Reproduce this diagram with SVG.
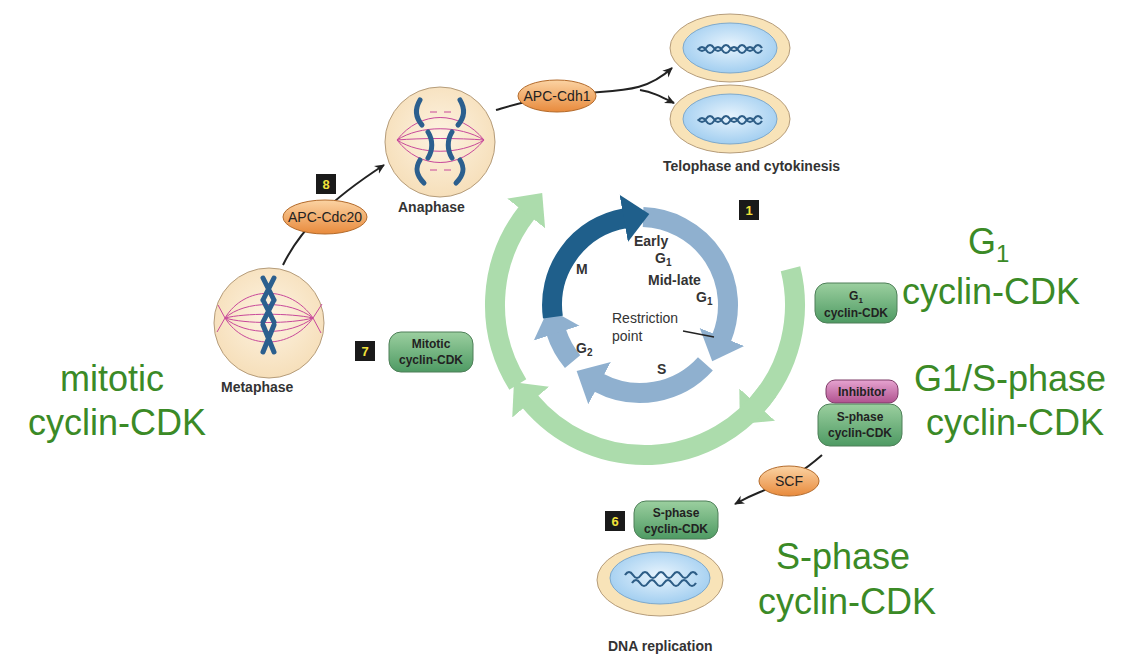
<svg xmlns="http://www.w3.org/2000/svg" width="1132" height="660" viewBox="0 0 1132 660">
<defs>
<style>
.lbl{font-family:"Liberation Sans",Arial,sans-serif;font-weight:bold;fill:#333;font-size:14px}
.big{font-family:"Liberation Sans",Arial,sans-serif;fill:#3b8a26;font-size:36px}
.gbox{fill:url(#gg);stroke:#4e7f58;stroke-width:1}
.gt{font-family:"Liberation Sans",Arial,sans-serif;font-weight:bold;fill:#222;font-size:12px;text-anchor:middle}
.ot{font-family:"Liberation Sans",Arial,sans-serif;fill:#222;font-size:14px;text-anchor:middle}
.num{fill:#1a1a1a}
.numt{font-family:"Liberation Sans",Arial,sans-serif;font-weight:bold;fill:#f3e23a;font-size:13px;text-anchor:middle}
.cell{fill:url(#cellg);stroke:#b59c7a;stroke-width:1}
.spin{fill:none;stroke:#c8489a;stroke-width:1}
.chr{fill:none;stroke:#2b5f8e;stroke-width:5;stroke-linecap:round}
.con{fill:none;stroke:#222;stroke-width:2}
.dna{fill:none;stroke:#2d5d86;stroke-width:2.2}
</style>
<radialGradient id="cellg" cx="0.5" cy="0.45" r="0.55"><stop offset="0" stop-color="#fdf3e2"/><stop offset="1" stop-color="#f6dfba"/></radialGradient>
<radialGradient id="nuc" cx="0.5" cy="0.45" r="0.6"><stop offset="0" stop-color="#e8f4fd"/><stop offset="1" stop-color="#9ccbef"/></radialGradient>
<linearGradient id="gg" x1="0" y1="0" x2="0" y2="1"><stop offset="0" stop-color="#9bcf9f"/><stop offset="1" stop-color="#4e9a63"/></linearGradient>
<linearGradient id="og" x1="0" y1="0" x2="0" y2="1"><stop offset="0" stop-color="#fbd3a3"/><stop offset="1" stop-color="#e88a3c"/></linearGradient>
<linearGradient id="mg" x1="0" y1="0" x2="0" y2="1"><stop offset="0" stop-color="#e6a3d0"/><stop offset="1" stop-color="#b0528f"/></linearGradient>
<marker id="mgreen" markerUnits="strokeWidth" viewBox="0 -1.5 2 3" refX="0.05" refY="0" markerWidth="2" markerHeight="3" orient="auto"><path d="M0,-1.2 L1.3,0 L0,1.2 z" fill="#acdcac"/></marker>
<marker id="mlight" markerUnits="strokeWidth" viewBox="0 -1.5 2 3" refX="0.05" refY="0" markerWidth="2" markerHeight="3" orient="auto"><path d="M0,-1.2 L1.3,0 L0,1.2 z" fill="#8fb0cf"/></marker>
<marker id="mdark" markerUnits="strokeWidth" viewBox="0 -1.5 2 3" refX="0.05" refY="0" markerWidth="2" markerHeight="3" orient="auto"><path d="M0,-1.2 L1.3,0 L0,1.2 z" fill="#1f5f8b"/></marker>
<marker id="ah" markerUnits="userSpaceOnUse" viewBox="0 -5 10 10" refX="9" refY="0" markerWidth="10" markerHeight="10" orient="auto"><path d="M0,-4.5 L10,0 L0,4.5 L3,0 z" fill="#222"/></marker>
</defs>
<rect width="1132" height="660" fill="#fff"/>

<g id="cycle-outer">
<path d="M790.5,268.7 A150,150 0 0 1 756.5,405.4" fill="none" stroke="#acdcac" stroke-width="20" marker-end="url(#mgreen)"/>
<path d="M767.9,391 A150,150 0 0 1 530,401.4" fill="none" stroke="#acdcac" stroke-width="20" marker-end="url(#mgreen)"/>
<path d="M517.8,384.5 A150,150 0 0 1 526.8,212.6" fill="none" stroke="#acdcac" stroke-width="20" marker-end="url(#mgreen)"/>
</g>
<g id="cycle-inner">
<path d="M643.1,217.1 A88,88 0 0 1 721.6,338" fill="none" stroke="#8fb0cf" stroke-width="20" marker-end="url(#mlight)"/>
<path d="M705.4,363.9 A88,88 0 0 1 598.7,382.7" fill="none" stroke="#8fb0cf" stroke-width="20" marker-end="url(#mlight)"/>
<path d="M572.6,361.6 A88,88 0 0 1 556.3,332.2" fill="none" stroke="#8fb0cf" stroke-width="20" marker-end="url(#mlight)"/>
<path d="M552.9,317.2 A88,88 0 0 1 624.7,218.3" fill="none" stroke="#1f5f8b" stroke-width="20" marker-end="url(#mdark)"/>
<text class="lbl" x="634" y="246">Early</text>
<text class="lbl" x="655" y="263">G<tspan font-size="10" dy="3">1</tspan></text>
<text class="lbl" x="648" y="285">Mid-late</text>
<text class="lbl" x="696" y="302">G<tspan font-size="10" dy="3">1</tspan></text>
<text class="lbl" x="576" y="274" font-size="15">M</text>
<text class="lbl" x="576" y="353">G<tspan font-size="10" dy="3">2</tspan></text>
<text class="lbl" x="657" y="374">S</text>
<text x="612" y="323" font-family="Liberation Sans,Arial,sans-serif" font-size="14" fill="#333">Restriction</text>
<text x="612" y="341" font-family="Liberation Sans,Arial,sans-serif" font-size="14" fill="#333">point</text>
<line x1="683" y1="331" x2="714" y2="337" stroke="#222" stroke-width="1.3"/>
</g>

<g id="connectors">
<path class="con" d="M283,265 C300,230 330,200 384,165" marker-end="url(#ah)"/>
<path class="con" d="M496,110 C520,103 540,96 600,92 C630,90 650,88 672,68" marker-end="url(#ah)"/>
<path class="con" d="M640,90 C652,92 660,96 674,103" marker-end="url(#ah)"/>
<path class="con" d="M822,455 C805,470 790,480 760,492 C750,496 744,499 735,504" marker-end="url(#ah)"/>
</g>

<g id="metaphase">
<circle class="cell" cx="269" cy="323" r="55"/>
<path class="spin" d="M225,318 C245,285 290,285 313,318 M225,318 C245,300 290,300 313,318 M225,318 C245,313 290,313 313,318 M225,318 C245,350 290,350 313,318 M225,318 C245,336 290,336 313,318 M225,318 C245,324 290,324 313,318 M225,318 L218,305 M225,318 L217,332 M313,318 L322,304 M313,318 L321,333"/>
<path class="chr" d="M263,278 L274,300 M274,278 L263,300 M263,300 L274,322 M274,300 L263,322 M263,325 L274,352 M274,325 L263,352"/>
<text class="lbl" x="221" y="392">Metaphase</text>
</g>
<g id="anaphase">
<circle class="cell" cx="440" cy="142" r="55"/>
<path class="spin" d="M397,140 C420,110 460,110 484,140 M397,140 C420,125 460,125 484,140 M397,140 C420,138 460,138 484,140 M397,140 C420,170 460,170 484,140 M397,140 C420,155 460,155 484,140 M430,112 L437,112 M444,112 L451,112 M430,170 L437,170 M444,170 L451,170"/>
<path class="chr" d="M420,100 C414,110 416,118 422,125 M460,100 C466,110 464,118 458,125 M428,132 C433,140 433,150 428,158 M452,132 C447,140 447,150 452,158 M420,160 C415,168 416,175 424,183 M460,160 C465,168 464,175 456,183"/>
<text class="lbl" x="398" y="212">Anaphase</text>
</g>
<g id="telophase">
<ellipse cx="730" cy="48" rx="60" ry="34" fill="#f8e3b8" stroke="#b59c7a"/>
<ellipse cx="730" cy="48" rx="47" ry="25" fill="url(#nuc)" stroke="#7ea9cc"/>
<path class="dna" d="M698,50 q4,-6 8,0 t8,0 t8,0 t8,0 t8,0 t8,0 t8,0 t8,0 M698,48 q4,6 8,0 t8,0 t8,0 t8,0 t8,0 t8,0 t8,0 t8,0"/>
<ellipse cx="730" cy="119" rx="60" ry="34" fill="#f8e3b8" stroke="#b59c7a"/>
<ellipse cx="730" cy="119" rx="47" ry="25" fill="url(#nuc)" stroke="#7ea9cc"/>
<path class="dna" d="M698,121 q4,-6 8,0 t8,0 t8,0 t8,0 t8,0 t8,0 t8,0 t8,0 M698,119 q4,6 8,0 t8,0 t8,0 t8,0 t8,0 t8,0 t8,0 t8,0"/>
<text class="lbl" x="663" y="171">Telophase and cytokinesis</text>
</g>
<g id="dna-replication">
<ellipse cx="660" cy="580" rx="63" ry="36" fill="#f8e3b8" stroke="#b59c7a"/>
<ellipse cx="660" cy="578" rx="50" ry="26" fill="url(#nuc)" stroke="#7ea9cc"/>
<path class="dna" d="M625,575 q4,-6 8,0 t8,0 t8,0 t8,0 t8,0 t8,0 t8,0 t8,0 t8,0 M632,583 q4,-6 8,0 t8,0 t8,0 t8,0 t8,0 t8,0 t8,0 t8,0"/>
<text class="lbl" x="608" y="651">DNA replication</text>
</g>

<g id="apc-cdh1"><ellipse cx="557" cy="96" rx="39" ry="16" fill="url(#og)" stroke="#b36a2a"/><text class="ot" x="557" y="101">APC-Cdh1</text></g>
<g id="apc-cdc20"><ellipse cx="325" cy="217" rx="42" ry="17" fill="url(#og)" stroke="#b36a2a"/><text class="ot" x="325" y="222">APC-Cdc20</text></g>
<g id="scf"><ellipse cx="789" cy="481" rx="30" ry="15" fill="url(#og)" stroke="#b36a2a"/><text class="ot" x="789" y="486">SCF</text></g>

<g id="g1-cdk"><rect class="gbox" x="815" y="283" width="82" height="40" rx="12"/><text class="gt" x="856" y="300">G<tspan font-size="8" dy="3">1</tspan></text><text class="gt" x="856" y="317" font-size="11">cyclin-CDK</text></g>
<g id="mitotic-cdk"><rect class="gbox" x="389" y="332" width="84" height="40" rx="12"/><text class="gt" x="431" y="348">Mitotic</text><text class="gt" x="431" y="364">cyclin-CDK</text></g>
<g id="inhibitor"><rect x="826" y="380" width="72" height="23" rx="9" fill="url(#mg)" stroke="#7d3a66"/><text class="gt" x="862" y="396">Inhibitor</text></g>
<g id="s-cdk-inhib"><rect class="gbox" x="818" y="404" width="84" height="42" rx="12"/><text class="gt" x="860" y="421">S-phase</text><text class="gt" x="860" y="437">cyclin-CDK</text></g>
<g id="s-cdk"><rect class="gbox" x="634" y="501" width="84" height="38" rx="12"/><text class="gt" x="676" y="517">S-phase</text><text class="gt" x="676" y="533">cyclin-CDK</text></g>

<g id="numbers">
<rect class="num" x="739" y="200" width="20" height="20"/><text class="numt" x="749" y="215">1</text>
<rect class="num" x="316" y="174" width="20" height="20"/><text class="numt" x="326" y="189">8</text>
<rect class="num" x="355" y="341" width="20" height="20"/><text class="numt" x="365" y="356">7</text>
<rect class="num" x="605" y="511" width="20" height="20"/><text class="numt" x="615" y="526">6</text>
</g>

<g id="labels">
<text class="big" x="968" y="254">G<tspan font-size="24" dy="8">1</tspan></text>
<text class="big" x="902" y="304">cyclin-CDK</text>
<text class="big" x="914" y="391">G1/S-phase</text>
<text class="big" x="926" y="435">cyclin-CDK</text>
<text class="big" x="60" y="391">mitotic</text>
<text class="big" x="28" y="435">cyclin-CDK</text>
<text class="big" x="776" y="569">S-phase</text>
<text class="big" x="758" y="614">cyclin-CDK</text>
</g>
</svg>
